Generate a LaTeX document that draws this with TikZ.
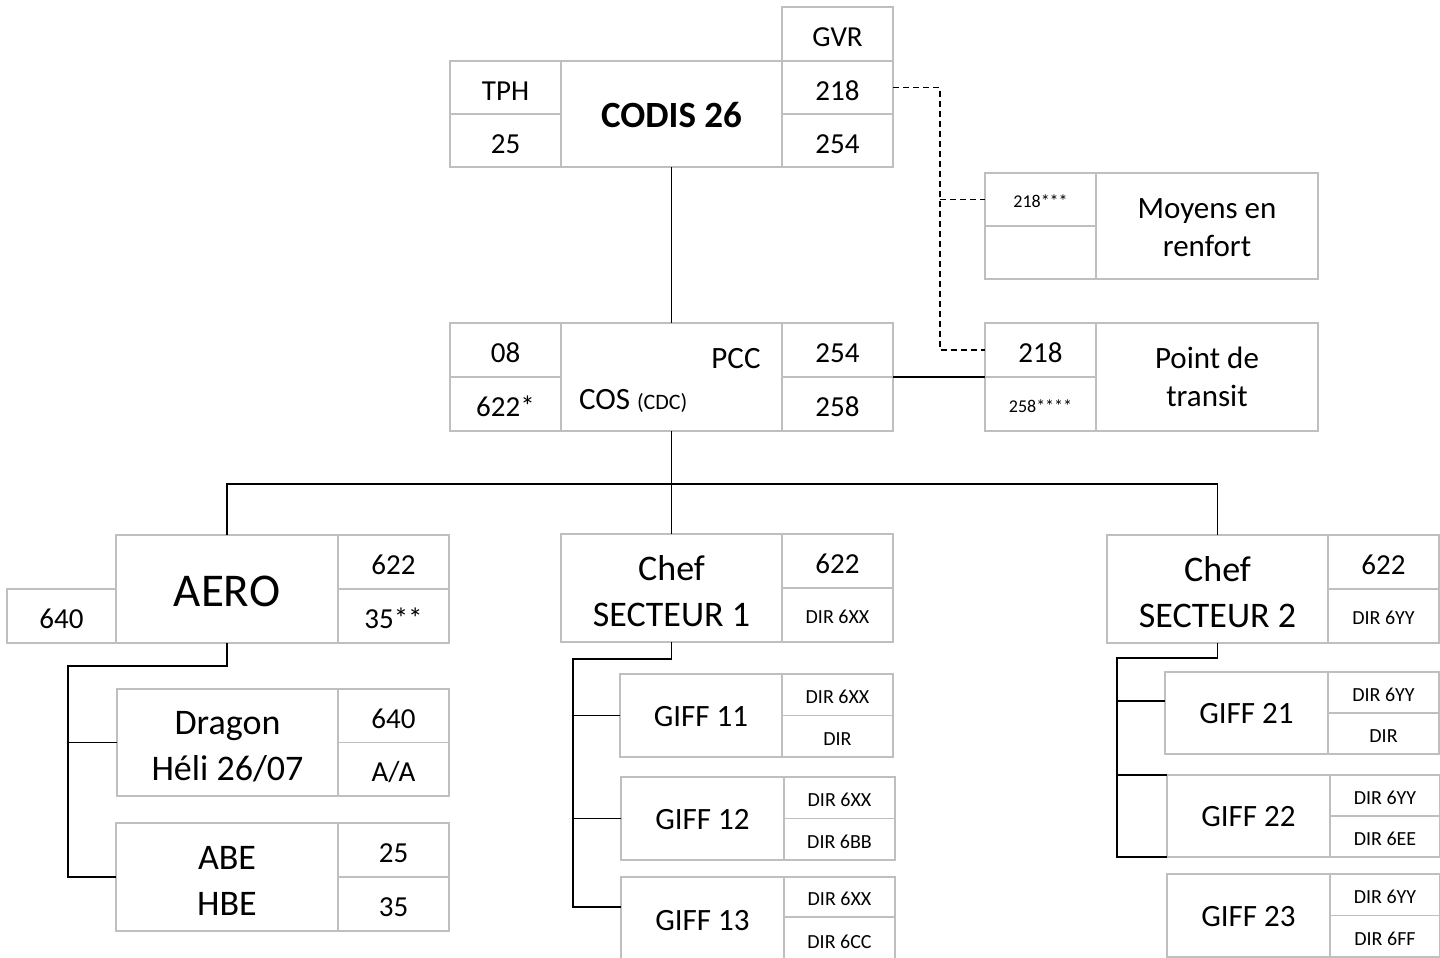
\documentclass[tikz,border=0pt]{standalone}
\usepackage{fontspec}
\setmainfont{Carlito}
\usetikzlibrary{positioning, calc}
\definecolor{CellGrey}{HTML}{BFBFBF}
\newcommand\cellstrut{\rule{0pt}{0.9em}}
\tikzset{lift/.code={\renewcommand\cellstrut{\rule{0pt}{#1}}}}

\begin{document}
\begin{tikzpicture}[x=1pt, y=-1pt, every node/.style={inner sep=0pt, outer sep=0pt}]
    \tikzstyle{cell} = [rectangle, draw=CellGrey, line width=1.8pt, align=center, font=\fontsize{29}{35}\selectfont, execute at begin node=\cellstrut]
    \tikzstyle{side} = [minimum width=111pt, minimum height=53pt]
    \tikzstyle{mid} = [font=\fontsize{31}{38}\selectfont, lift=0.71em]
    \tikzstyle{midtwo} = [font=\fontsize{31}{38}\selectfont, lift=0.77em]
    \tikzstyle{big} = [font=\fontsize{36}{46}\selectfont, lift=0.88em]
    \tikzstyle{dir} = [font=\fontsize{20}{24}\selectfont]
    \tikzstyle{star} = [font=\fontsize{18}{22}\selectfont]
    \tikzstyle{link} = [draw, line width=1.6pt, black]
    \tikzstyle{dashlink} = [draw, line width=1.6pt, black, dash pattern=on 6pt off 4pt]

    \useasboundingbox (0,0) rectangle (1440,958);

    % CODIS
    \node [cell, minimum width=221pt, minimum height=106pt, font=\fontsize{37}{44}\selectfont\bfseries, lift=0.75em] (codis) at (671.5,114) {CODIS 26};
    \node [cell, side, anchor=north east] (tph) at (codis.north west) {TPH};
    \node [cell, side, below=0pt of tph] (tph25) {25};
    \node [cell, side, anchor=north west] (c218) at (codis.north east) {218};
    \node [cell, side, below=0pt of c218] (c254) {254};
    \node [cell, side, minimum height=54pt, above=0pt of c218] (gvr) {GVR};

    % PCC
    \node [cell, minimum width=221pt, minimum height=108pt] (pcc) at (671.5,377) {};
    \node [cell, side, minimum height=54pt, anchor=north east] (p08) at (pcc.north west) {08};
    \node [cell, side, minimum height=54pt, below=0pt of p08] (p622) {622*};
    \node [cell, side, minimum height=54pt, anchor=north west] (p254) at (pcc.north east) {254};
    \node [cell, side, minimum height=54pt, below=0pt of p254] (p258) {258};
    \node [midtwo] (pcclabel) at (736,359) {PCC};
    \node [midtwo, anchor=west] (coslabel) at (579,401) {COS {\fontsize{22}{26}\selectfont(CDC)}};

    % renfort et transit
    \node [cell, midtwo, minimum width=222pt, minimum height=106pt] (renfort) at (1207,226) {\cellstrut Moyens en\\renfort};
    \node [cell, side, star, anchor=north east] (r218) at (renfort.north west) {218***};
    \node [cell, side, below=0pt of r218] (rvide) {};
    \node [cell, midtwo, minimum width=222pt, minimum height=108pt] (transit) at (1207,377) {Point de\\transit};
    \node [cell, side, minimum height=54pt, anchor=north east] (t218) at (transit.north west) {218};
    \node [cell, side, star, minimum height=54pt, below=0pt of t218] (t258) {258****};

    % AERO
    \node [cell, minimum width=222pt, minimum height=108pt, font=\fontsize{47}{56}\selectfont, lift=0.73em] (aero) at (227,589) {AERO};
    \node [cell, side, minimum height=54pt, anchor=north west] (a622) at (aero.north east) {622};
    \node [cell, side, minimum height=54pt, below=0pt of a622] (a35) {35**};
    \node [cell, minimum width=109pt, minimum height=54pt, anchor=north east] (a640) at (aero.west) {640};
    \node [cell, big, minimum width=221pt, minimum height=107pt] (dragon) at (227.5,742.5) {\cellstrut Dragon\\Héli 26/07};
    \node [cell, side, minimum height=53.5pt, anchor=north west] (d640) at (dragon.north east) {640};
    \node [cell, side, minimum height=53.5pt, below=0pt of d640] (daa) {A/A};
    \node [cell, big, minimum width=222pt, minimum height=108pt] (abe) at (227,877) {\cellstrut ABE\\HBE};
    \node [cell, side, minimum height=54pt, anchor=north west] (b25) at (abe.north east) {25};
    \node [cell, side, minimum height=54pt, below=0pt of b25] (b35) {35};

    % secteur 1
    \node [cell, big, minimum width=221pt, minimum height=108pt] (sect1) at (671.5,588) {\cellstrut Chef\\SECTEUR 1};
    \node [cell, side, minimum height=54pt, anchor=north west] (s1622) at (sect1.north east) {622};
    \node [cell, side, dir, minimum height=54pt, below=0pt of s1622] (s1dir) {DIR 6XX};
    \node [cell, mid, minimum width=162pt, minimum height=83pt] (giff11) at (701,715.5) {GIFF 11};
    \node [cell, side, dir, minimum height=41.5pt, anchor=north west] (g11a) at (giff11.north east) {DIR 6XX};
    \node [cell, side, dir, minimum height=41.5pt, below=0pt of g11a] (g11b) {DIR};
    \node [cell, mid, minimum width=163pt, minimum height=83pt] (giff12) at (702.5,818.5) {GIFF 12};
    \node [cell, side, dir, minimum height=41.5pt, anchor=north west] (g12a) at (giff12.north east) {DIR 6XX};
    \node [cell, side, dir, minimum height=41.5pt, below=0pt of g12a] (g12b) {DIR 6BB};
    \node [cell, mid, minimum width=163pt, minimum height=86pt] (giff13) at (702.5,920) {GIFF 13};
    \node [cell, side, dir, minimum height=40pt, anchor=north west] (g13a) at (giff13.north east) {DIR 6XX};
    \node [cell, side, dir, minimum height=46pt, below=0pt of g13a] (g13b) {DIR 6CC};

    % secteur 2
    \node [cell, big, minimum width=221pt, minimum height=108pt] (sect2) at (1217.5,589) {\cellstrut Chef\\SECTEUR 2};
    \node [cell, side, minimum height=54pt, anchor=north west] (s2622) at (sect2.north east) {622};
    \node [cell, side, dir, minimum height=54pt, below=0pt of s2622] (s2dir) {DIR 6YY};
    \node [cell, mid, minimum width=163pt, minimum height=82pt] (giff21) at (1246.5,713) {GIFF 21};
    \node [cell, side, dir, minimum height=41pt, anchor=north west] (g21a) at (giff21.north east) {DIR 6YY};
    \node [cell, side, dir, minimum height=41pt, below=0pt of g21a] (g21b) {DIR};
    \node [cell, mid, minimum width=163pt, minimum height=82pt] (giff22) at (1248.5,816) {GIFF 22};
    \node [cell, side, dir, minimum width=110pt, minimum height=41pt, anchor=north west] (g22a) at (giff22.north east) {DIR 6YY};
    \node [cell, side, dir, minimum width=110pt, minimum height=41pt, below=0pt of g22a] (g22b) {DIR 6EE};
    \node [cell, mid, minimum width=163pt, minimum height=83pt] (giff23) at (1248.5,915.5) {GIFF 23};
    \node [cell, side, dir, minimum width=110pt, minimum height=41.5pt, anchor=north west] (g23a) at (giff23.north east) {DIR 6YY};
    \node [cell, side, dir, minimum width=110pt, minimum height=41.5pt, below=0pt of g23a] (g23b) {DIR 6FF};

    % liaisons
    \coordinate (dsplit) at (940,0);
    \coordinate (bus) at (671.5,484);
    \coordinate (aerobus) at (68,666);
    \coordinate (s1bus) at (573,659);
    \coordinate (s2bus) at (1117,658);

    \path [link] (codis) -- (pcc);
    \path [dashlink] (c218.east) -| (dsplit |- t218.west) -- (t218.west);
    \path [dashlink] (dsplit |- r218.west) -- (r218.west);
    \path [link] (p254.south east) -- (t218.south west);
    \path [link] (pcc.south) -- (sect1.north);
    \path [link] (aero.north) |- (bus) -| (sect2.north);

    \path [link] (aero.south) |- (aerobus) |- (abe.west);
    \path [link] (aerobus |- dragon.west) -- (dragon.west);

    \path [link] (sect1.south) |- (s1bus) |- ([yshift=13pt]giff13.west);
    \path [link] (s1bus |- giff11.west) -- (giff11.west);
    \path [link] (s1bus |- giff12.west) -- (giff12.west);

    \path [link] (sect2.south) |- (s2bus) |- (giff22.south west);
    \path [link] (s2bus |- giff22.north west) -- (giff22.north west);
    \path [link] (s2bus |- giff21.west) ++(0,-12) -- ([yshift=12pt]giff21.west);
\end{tikzpicture}
\end{document}
